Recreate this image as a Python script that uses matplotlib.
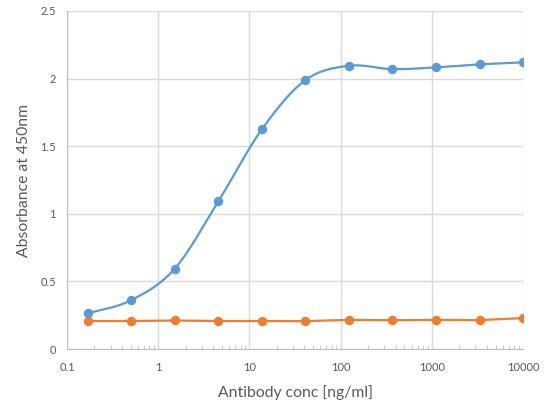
import matplotlib.pyplot as plt
import numpy as np

plt.rcParams['font.family'] = ['Lato', 'DejaVu Sans']

# 3-fold dilution series (ng/ml)
conc = [0.169, 0.508, 1.52, 4.57, 13.7, 41.2, 123.5, 370, 1111, 3333, 10000]
blue_abs = [0.263, 0.362, 0.595, 1.093, 1.625, 1.989, 2.095, 2.07, 2.083, 2.105, 2.12]
orange_abs = [0.207, 0.207, 0.211, 0.207, 0.207, 0.206, 0.216, 0.213, 0.216, 0.214, 0.229]

xticks = [0.1, 1, 10, 100, 1000, 10000]
xticklabels = ['0.1', '1', '10', '100', '1000', '10000']
yticks = [0, 0.5, 1, 1.5, 2, 2.5]
yticklabels = ['0', '0.5', '1', '1.5', '2', '2.5']

blue = '#5B9BD5'
orange = '#ED7D31'
grid = '#D9D9D9'
txt = '#595959'


def smooth(x, y, n=30):
    # Catmull-Rom in log-x space, like Excel's smoothed line
    lx = np.log10(x)
    y = np.asarray(y, float)
    px = np.concatenate(([2 * lx[0] - lx[1]], lx, [2 * lx[-1] - lx[-2]]))
    py = np.concatenate(([2 * y[0] - y[1]], y, [2 * y[-1] - y[-2]]))
    xs, ys = [], []
    t = np.linspace(0, 1, n)
    for i in range(1, len(px) - 2):
        for p, out in ((px, xs), (py, ys)):
            p0, p1, p2, p3 = p[i - 1], p[i], p[i + 1], p[i + 2]
            out.append(0.5 * (2 * p1 + (-p0 + p2) * t
                              + (2 * p0 - 5 * p1 + 4 * p2 - p3) * t ** 2
                              + (-p0 + 3 * p1 - 3 * p2 + p3) * t ** 3))
    return 10 ** np.concatenate(xs), np.concatenate(ys)


fig = plt.figure(figsize=(5.52, 4.16), dpi=100)
ax = fig.add_axes([0.1214, 0.161, 0.8261, 0.8126])

sx, sy = smooth(conc, blue_abs)
ax.plot(sx, sy, color=blue, lw=1.6, zorder=3)
ax.plot(conc, blue_abs, 'o', color=blue, ms=5.8, zorder=4)
ax.plot(conc, orange_abs, '-o', color=orange, lw=1.6, ms=5.8, zorder=3)

ax.set_xscale('log')
ax.set_xlim(0.1, 10000)
ax.set_ylim(0, 2.5)
ax.set_xticks(xticks)
ax.set_xticklabels(xticklabels)
ax.set_yticks(yticks)
ax.set_yticklabels(yticklabels)

ax.grid(True, which='major', color=grid, lw=1)
ax.set_axisbelow(True)
for s in ['top', 'right']:
    ax.spines[s].set_visible(False)
for s in ['left', 'bottom']:
    ax.spines[s].set_color('#BFBFBF')
ax.tick_params(axis='both', which='major', length=0, labelsize=8, colors=txt)
ax.tick_params(axis='x', which='major', pad=9)
ax.tick_params(axis='y', which='major', pad=8)
ax.tick_params(axis='x', which='minor', direction='in', length=3, color='#BFBFBF', labelbottom=False)
ax.tick_params(axis='y', which='minor', length=0)

ax.set_xlabel('Antibody conc [ng/ml]', fontsize=11.3, color=txt, labelpad=9)
ax.set_ylabel('Absorbance at 450nm', fontsize=11.3, color=txt, labelpad=7)

fig.savefig('out.png', dpi=100)
